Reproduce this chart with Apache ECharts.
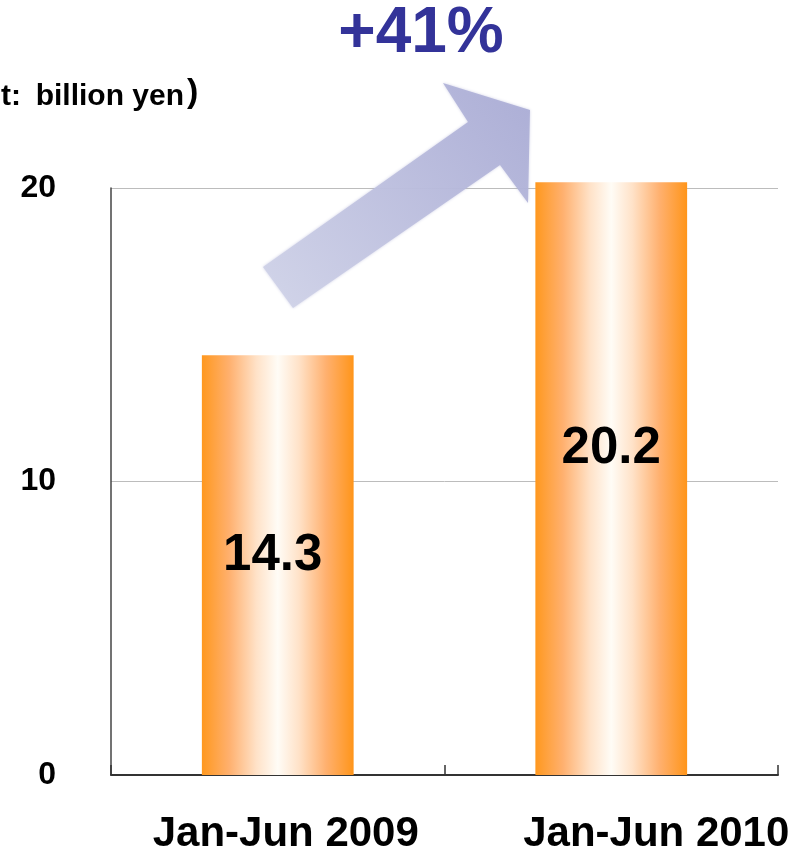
<!DOCTYPE html>
<html>
<head>
<meta charset="utf-8">
<script src="https://cdn.jsdelivr.net/npm/echarts@6/dist/echarts.min.js"></script>
<style>
  html, body { margin: 0; padding: 0; background: #fff; }
  #chart { width: 803px; height: 849px; }
</style>
</head>
<body>
<div id="chart"></div>
<script>
// Half-year sales, billion yen
const periods = ['Jan-Jun 2009', 'Jan-Jun 2010'];
const sales = [14.3, 20.2];
const yTicks = [0, 10, 20];
const growthText = '+41%';
const unitHead = '（Unit:';
const unitBody = 'billion yen';
const unitClose = ')';

const FONT = '"Liberation Sans", Arial, sans-serif';

const barFill = {
  type: 'linear', x: 0, y: 0, x2: 1, y2: 0,
  colorStops: [
    { offset: 0, color: '#ff981e' },
    { offset: 0.18, color: '#ffb06e' },
    { offset: 0.36, color: '#ffe2c8' },
    { offset: 0.5, color: '#fffcf6' },
    { offset: 0.64, color: '#ffe2c8' },
    { offset: 0.82, color: '#ffb06e' },
    { offset: 1, color: '#ff951a' }
  ]
};

// per-bar nudge of the value label
const labelNudge = [[-5, -9], [0, -30]];

function unitPiece(text, x, y, size, align) {
  return {
    type: 'text', z: 11, x, y,
    style: {
      text, fontFamily: FONT, fontWeight: 'bold', fontSize: size,
      fill: '#000', align, verticalAlign: 'middle'
    }
  };
}

const chart = echarts.init(document.getElementById('chart'));

chart.setOption({
  animation: false,
  backgroundColor: '#ffffff',
  grid: { left: 111, right: 25, top: 188, bottom: 74, containLabel: false, outerBoundsMode: 'none' },
  xAxis: {
    type: 'category',
    data: periods,
    boundaryGap: true,
    axisLine: { show: true, lineStyle: { color: '#333', width: 2 } },
    axisTick: { show: true, inside: true, length: 10, lineStyle: { color: '#333', width: 1.5 } },
    axisLabel: {
      interval: 0,
      hideOverlap: false,
      margin: 38,
      fontFamily: FONT,
      fontWeight: 'bold',
      fontSize: 42,
      color: '#000',
      formatter: (v, i) => `{c${i}|${v}}`,
      rich: {
        c0: { fontFamily: FONT, fontWeight: 'bold', fontSize: 42, color: '#000', padding: [0, 0, 0, 16] },
        c1: { fontFamily: FONT, fontWeight: 'bold', fontSize: 42, color: '#000', padding: [0, 0, 0, 90] }
      }
    }
  },
  yAxis: {
    type: 'value',
    min: yTicks[0],
    max: yTicks[yTicks.length - 1],
    interval: yTicks[1] - yTicks[0],
    axisLine: { show: true, lineStyle: { color: '#444', width: 1.5 } },
    axisTick: { show: false },
    splitLine: { show: true, lineStyle: { color: '#bcbcbc', width: 1 } },
    axisLabel: {
      margin: 55,
      align: 'right',
      fontFamily: FONT,
      fontWeight: 'bold',
      fontSize: 32,
      color: '#000'
    }
  },
  series: [{
    type: 'bar',
    clip: false,
    barWidth: '45.5%',
    data: sales.map((v, i) => ({
      value: v,
      label: { offset: labelNudge[i] }
    })),
    itemStyle: { color: barFill },
    label: {
      show: true,
      position: 'inside',
      fontFamily: FONT,
      fontWeight: 'bold',
      fontSize: 51,
      color: '#000'
    }
  }],
  graphic: [
    {
      type: 'polygon',
      z: 10,
      shape: {
        points: [[263, 267], [468, 122], [443, 83], [530, 110], [528, 203], [500, 165], [293, 308]]
      },
      style: {
        fill: {
          type: 'linear', x: 0, y: 1, x2: 1, y2: 0,
          colorStops: [
            { offset: 0, color: 'rgba(210,213,233,0.95)' },
            { offset: 1, color: 'rgba(168,170,212,0.9)' }
          ]
        },
        shadowBlur: 3,
        shadowColor: 'rgba(170,172,212,0.6)'
      }
    },
    {
      type: 'text',
      z: 11,
      x: 421,
      y: 34,
      style: {
        text: growthText,
        fontFamily: FONT,
        fontWeight: 'bold',
        fontSize: 64,
        fill: '#333399',
        align: 'center',
        verticalAlign: 'middle'
      }
    },
    unitPiece(unitHead, 21, 97, 30, 'right'),
    unitPiece(unitBody, 184, 97, 30, 'right'),
    unitPiece(unitClose, 187, 93, 34, 'left')
  ]
});
</script>
</body>
</html>
